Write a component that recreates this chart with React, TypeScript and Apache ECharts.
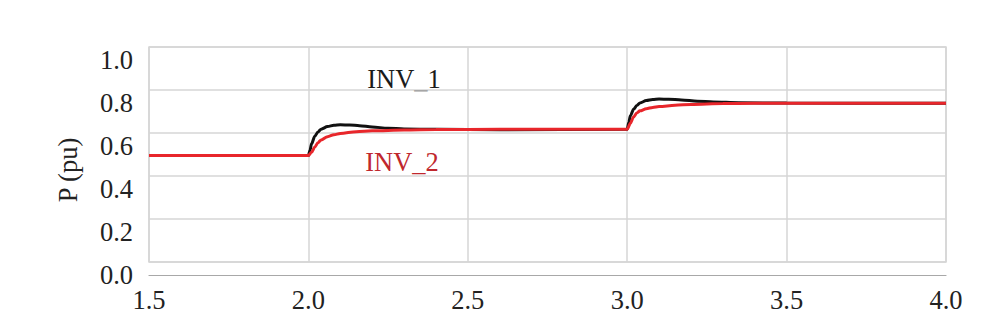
import React, { useEffect, useRef } from "react";
import * as echarts from "echarts";

const xTicks = [1.5, 2.0, 2.5, 3.0, 3.5, 4.0];
const yTicks = [0.0, 0.2, 0.4, 0.6, 0.8, 1.0];

const inv1Time = [1.5, 2.0, 2.005, 2.01, 2.02, 2.03, 2.04, 2.06, 2.08, 2.1, 2.13, 2.16, 2.2, 2.25, 2.3, 2.4, 2.6, 3.0, 3.005, 3.01, 3.02, 3.03, 3.04, 3.06, 3.08, 3.1, 3.13, 3.17, 3.22, 3.27, 3.35, 3.5, 4.0];
const inv1P = [0.495, 0.495, 0.52, 0.55, 0.585, 0.605, 0.618, 0.63, 0.636, 0.638, 0.637, 0.634, 0.628, 0.622, 0.619, 0.617, 0.615, 0.617, 0.65, 0.68, 0.71, 0.728, 0.74, 0.751, 0.756, 0.758, 0.757, 0.754, 0.748, 0.744, 0.741, 0.739, 0.738];

const inv2Time = [1.5, 2.0, 2.01, 2.02, 2.03, 2.04, 2.06, 2.08, 2.1, 2.15, 2.2, 2.3, 2.4, 2.6, 3.0, 3.01, 3.02, 3.03, 3.04, 3.06, 3.08, 3.1, 3.15, 3.2, 3.3, 3.4, 4.0];
const inv2P = [0.495, 0.495, 0.51, 0.535, 0.555, 0.568, 0.583, 0.592, 0.598, 0.606, 0.61, 0.614, 0.616, 0.617, 0.617, 0.645, 0.675, 0.693, 0.703, 0.713, 0.719, 0.723, 0.729, 0.733, 0.737, 0.738, 0.738];

const FONT = "Liberation Serif";
const FS = 26.5;

export default function App() {
  const ref = useRef<HTMLDivElement>(null);
  useEffect(() => {
    if (!ref.current) return;
    const chart = echarts.init(ref.current, undefined, { renderer: "svg" });
    const zip = (t: number[], v: number[]) => t.map((x, i) => [x, v[i]]);
    chart.setOption({
      animation: false,
      backgroundColor: "#ffffff",
      grid: [
        { left: 149, top: 47, right: 49, bottom: 74, show: true, borderColor: "#d6d6d6", borderWidth: 1.5 },
        { left: 149, top: 60, right: 49, bottom: 61, show: false },
      ],
      xAxis: [
        {
          gridIndex: 0, type: "value", min: xTicks[0], max: xTicks[xTicks.length - 1], interval: 0.5,
          axisLine: { show: false }, axisTick: { show: false }, axisLabel: { show: false },
          splitLine: { show: true, lineStyle: { color: "#d6d6d6", width: 1.5 } },
        },
        {
          gridIndex: 1, type: "value", min: xTicks[0], max: xTicks[xTicks.length - 1], interval: 0.5,
          axisLine: { show: true, lineStyle: { color: "#a8a8a8", width: 1.2 } }, axisTick: { show: false },
          splitLine: { show: false },
          axisLabel: { show: true, margin: 11, fontFamily: FONT, fontSize: FS, color: "#222", formatter: (v: number) => v.toFixed(1) },
        },
      ],
      yAxis: [
        {
          gridIndex: 0, type: "value", min: yTicks[0], max: yTicks[yTicks.length - 1], interval: 0.2,
          axisLine: { show: false }, axisTick: { show: false }, axisLabel: { show: false },
          splitLine: { show: true, lineStyle: { color: "#d6d6d6", width: 1.5 } },
        },
        {
          gridIndex: 1, type: "value", min: yTicks[0], max: yTicks[yTicks.length - 1], interval: 0.2,
          axisLine: { show: false }, axisTick: { show: false }, splitLine: { show: false },
          axisLabel: { show: true, margin: 16, fontFamily: FONT, fontSize: FS, color: "#222", formatter: (v: number) => v.toFixed(1) },
        },
      ],
      graphic: [
        { type: "text", x: 68, y: 170, rotation: Math.PI / 2, style: { text: "P (pu)", fontFamily: FONT, fontSize: FS, fill: "#222", align: "center", verticalAlign: "middle" } },
        { type: "text", x: 404, y: 79, style: { text: "INV_1", fontFamily: FONT, fontSize: FS, fill: "#1a1a1a", align: "center", verticalAlign: "middle" } },
        { type: "text", x: 402, y: 162, style: { text: "INV_2", fontFamily: FONT, fontSize: FS, fill: "#c0272d", align: "center", verticalAlign: "middle" } },
      ],
      series: [
        {
          name: "INV_1", type: "line", xAxisIndex: 0, yAxisIndex: 0, data: zip(inv1Time, inv1P),
          showSymbol: false, smooth: 0.3, smoothMonotone: "x", lineStyle: { color: "#111111", width: 3 },
        },
        {
          name: "INV_2", type: "line", xAxisIndex: 0, yAxisIndex: 0, data: zip(inv2Time, inv2P),
          showSymbol: false, smooth: 0.3, smoothMonotone: "x", lineStyle: { color: "#e8262b", width: 3 },
        },
      ],
    });
    return () => chart.dispose();
  }, []);
  return <div ref={ref} style={{ width: 995, height: 336, position: "absolute", left: 0, top: 0 }} />;
}
